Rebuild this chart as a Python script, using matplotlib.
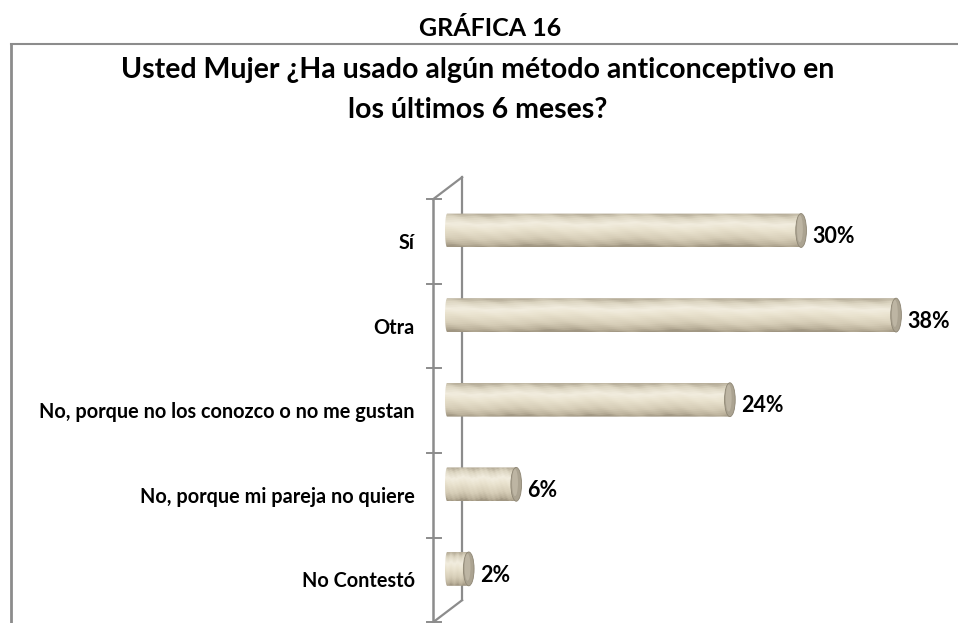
import numpy as np
import matplotlib
matplotlib.use("Agg")
import matplotlib.pyplot as plt
from matplotlib.patches import Ellipse, Polygon
from matplotlib.lines import Line2D
from matplotlib.colors import LinearSegmentedColormap

plt.rcParams["font.family"] = ["Lato", "DejaVu Sans"]
plt.rcParams["font.weight"] = "bold"

categories = ["Sí", "Otra", "No, porque no los conozco o no me gustan",
              "No, porque mi pareja no quiere", "No Contestó"]
values = [30, 38, 24, 6, 2]
value_labels = ["30%", "38%", "24%", "6%", "2%"]

W, H = 958, 623
fig = plt.figure(figsize=(W / 100, H / 100), dpi=100)
ax = fig.add_axes([0, 0, 1, 1])
ax.axis("off")

# px mapping: 0% at x=445px, ~11.9 px per %, category i front centre at 241.5 + 84.6 i
px_per_pct = 11.87
x_org = 445.0
row = 84.6
y_org = 241.5
xlim = (-x_org / px_per_pct, (W - x_org) / px_per_pct)
ylim = ((H - y_org) / row, -y_org / row)

axis_col = "#8c8c8c"
# 3D axis frame (back line behind the bars)
fx, bx = -1.0, 1.44
ft, fb = -0.5, 4.5
depth = 0.26
ax.plot([bx, bx], [ft - depth, fb - depth], color=axis_col, lw=1.6, zorder=1)
ax.plot([fx, fx], [ft, fb], color=axis_col, lw=1.8, zorder=1, clip_on=False)
ax.plot([fx, bx], [ft, ft - depth], color=axis_col, lw=1.6, zorder=1)
ax.plot([fx, bx], [fb, fb - depth], color=axis_col, lw=1.6, zorder=1, clip_on=False)
for k in range(len(categories) + 1):
    ax.plot([-1.5, -0.33], [ft + k, ft + k], color=axis_col, lw=1.4, zorder=1)

# cylinder shading
cmap = LinearSegmentedColormap.from_list(
    "cyl", [(0.0, "#b8af9b"), (0.12, "#dcd5c1"), (0.32, "#f2eddf"),
            (0.5, "#e9e2ce"), (0.75, "#d6cdb7"), (0.92, "#bbb19b"),
            (1.0, "#a09682")])
ny, nx = 60, 400
tt = np.linspace(0, 1, ny)[:, None]
xx = np.linspace(0, 1, nx)[None, :]
streak = 0.035 * np.sin(xx * 90 + tt * 40) * np.sin(tt * 55) + 0.03 * np.sin(xx * 23 + 2.0)
shade = cmap(np.clip(tt + streak, 0, 1))[..., :3]

bar_off = -0.13
hh = 0.2
cap_w = 0.45
for i, v in enumerate(values):
    yc = i + bar_off
    x1 = v
    ang = np.linspace(np.pi / 2, 3 * np.pi / 2, 20)
    left = np.column_stack([0.18 * np.cos(ang) + 0.18, -hh * np.sin(ang) + yc])
    pts = np.vstack([[[x1, yc - hh]], left, [[x1, yc + hh]]])
    clip = Polygon(pts, closed=True, transform=ax.transData, facecolor="none", edgecolor="none")
    ax.add_patch(clip)
    im = ax.imshow(shade, extent=(0, x1, yc + hh, yc - hh), aspect="auto",
                   origin="upper", zorder=3, interpolation="bilinear")
    im.set_clip_path(clip)
    cap = Ellipse((x1, yc), cap_w * 2, hh * 2, facecolor="#aba391",
                  edgecolor="#8e8674", lw=0.6, zorder=4)
    ax.add_patch(cap)
    ax.add_patch(Ellipse((x1 - 0.1, yc - 0.02), cap_w * 1.1, hh * 1.6,
                         facecolor="#bdb5a3", edgecolor="none", zorder=4))
    ax.text(x1 + cap_w + 0.5, i + 0.02, value_labels[i], ha="left", va="baseline",
            fontsize=15.5, fontweight="bold", color="black", zorder=5)
    ax.text(-2.55, i + 0.088, categories[i], ha="right", va="baseline",
            fontsize=14.3, fontweight="bold", color="black", zorder=5)

ax.set_xlim(*xlim)
ax.set_ylim(*ylim)

# frame and titles
fx0 = 11 / W
fy0 = 1 - 44 / H
fig.add_artist(Line2D([fx0, fx0], [0, fy0], transform=fig.transFigure, color=axis_col, lw=2.0))
fig.add_artist(Line2D([fx0, 1], [fy0, fy0], transform=fig.transFigure, color=axis_col, lw=1.5))

fig.text(490 / W, 1 - 36 / H, "GRÁFICA 16", ha="center", va="baseline",
         fontsize=18, fontweight="bold")
fig.text(478 / W, 1 - 78 / H, "Usted Mujer ¿Ha usado algún método anticonceptivo en",
         ha="center", va="baseline", fontsize=20.5, fontweight="bold")
fig.text(478 / W, 1 - 118 / H, "los últimos 6 meses?",
         ha="center", va="baseline", fontsize=20.5, fontweight="bold")

fig.savefig("out.png", dpi=100)
